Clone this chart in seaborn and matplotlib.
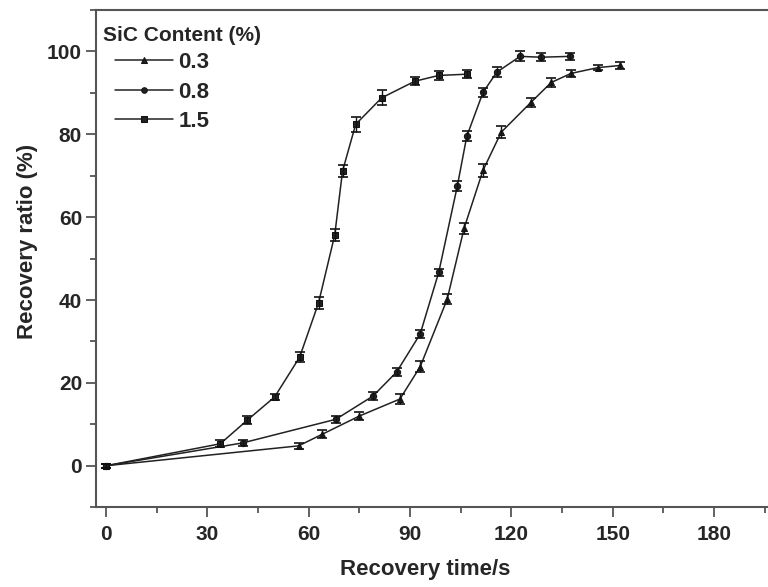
import numpy as np
import pandas as pd
import matplotlib
matplotlib.use('Agg')
import matplotlib.pyplot as plt
import seaborn as sns
from matplotlib.ticker import MultipleLocator

# Datos
t_03 = [0, 57, 64, 75, 87, 93, 101, 106, 111.6, 117, 125.8, 131.8, 137.7, 145.7, 152.2]
r_03 = [0, 4.8, 7.6, 12.0, 16.1, 23.9, 40.2, 57.3, 71.3, 80.5, 87.7, 92.5, 94.7, 96.1, 96.6]
e_03 = [0.5, 0.8, 1.0, 1.0, 1.2, 1.3, 1.2, 1.3, 1.5, 1.5, 1.0, 1.0, 0.8, 0.6, 0.8]

t_08 = [0, 40.4, 68, 79, 86, 93, 98.5, 104, 106.8, 111.6, 115.7, 122.6, 128.8, 137.4]
r_08 = [0, 5.5, 11.2, 16.8, 22.6, 31.8, 46.7, 67.5, 79.5, 90.1, 95.0, 98.8, 98.6, 98.8]
e_08 = [0.5, 0.8, 0.8, 1.0, 1.0, 1.0, 0.8, 1.2, 1.2, 1.0, 1.2, 1.2, 1.0, 0.8]

t_15 = [0, 33.8, 41.8, 49.9, 57.3, 62.9, 67.7, 70, 73.9, 81.6, 91.4, 98.5, 106.8]
r_15 = [0, 5.3, 11.0, 16.6, 26.2, 39.3, 55.7, 71.1, 82.4, 88.8, 92.8, 94.2, 94.5]
e_15 = [0.5, 0.8, 1.0, 0.8, 1.2, 1.5, 1.5, 1.5, 1.8, 1.8, 1.0, 1.0, 1.0]

labels = ['0.3', '0.8', '1.5']
marcadores = {'0.3': '^', '0.8': 'o', '1.5': 's'}

df = pd.DataFrame({
    'tiempo': t_03 + t_08 + t_15,
    'ratio': r_03 + r_08 + r_15,
    'err': e_03 + e_08 + e_15,
    'SiC': ['0.3'] * len(t_03) + ['0.8'] * len(t_08) + ['1.5'] * len(t_15),
})

sns.set_style('ticks')
plt.rcParams['font.family'] = ['Liberation Sans', 'DejaVu Sans']
plt.rcParams['font.weight'] = 'bold'

fig = plt.figure(figsize=(7.68, 5.87), dpi=100)
ax = fig.add_axes([0.125, 0.136, 0.875, 0.847])

sns.lineplot(data=df, x='tiempo', y='ratio', hue='SiC', style='SiC',
             palette={l: '#222222' for l in labels}, markers=marcadores,
             dashes=False, markersize=4.5, markeredgecolor='#111111',
             linewidth=1.1, ax=ax, legend=True, sort=False)

for l in labels:
    d = df[df['SiC'] == l]
    ax.errorbar(d['tiempo'], d['ratio'], yerr=d['err'], fmt='none',
                ecolor='#111111', elinewidth=1.0, capsize=3.5, capthick=1.2)

ax.set_xlim(-3, 196)
ax.set_ylim(-10, 110)
ax.xaxis.set_minor_locator(MultipleLocator(15))
ax.yaxis.set_major_locator(MultipleLocator(20))
ax.yaxis.set_minor_locator(MultipleLocator(10))
ax.set_xticks(range(0, 181, 30))
ax.tick_params(which='major', direction='out', length=7, width=1.3,
               color='#555555', labelsize=15, pad=3)
ax.tick_params(axis='x', which='major', pad=6)
ax.tick_params(which='minor', direction='out', length=4.5, width=1.3,
               color='#555555')
for lab in ax.get_xticklabels() + ax.get_yticklabels():
    lab.set_fontweight('bold')

for s in ['left', 'bottom', 'top']:
    ax.spines[s].set_color('#555555')
    ax.spines[s].set_linewidth(1.5)
ax.spines['right'].set_visible(False)

ax.set_xlabel('Recovery time/s', fontsize=16, fontweight='bold')
ax.set_ylabel('Recovery ratio (%)', fontsize=16, fontweight='bold')
ax.xaxis.set_label_coords(0.49, -0.105)
ax.yaxis.set_label_coords(-0.086, 0.535)

# Título de la leyenda como texto aparte (las entradas van sangradas)
ax.text(0.010, 0.948, 'SiC Content (%)', transform=ax.transAxes,
        fontsize=15, fontweight='bold', ha='left', va='center')
leg = ax.legend(loc='upper left', bbox_to_anchor=(0.028, 0.915),
                frameon=False, fontsize=16, handlelength=2.6,
                borderaxespad=0, borderpad=0, labelspacing=0.38,
                handletextpad=0.25)
for txt in leg.get_texts():
    txt.set_fontweight('bold')
for h in leg.legend_handles:
    h.set_markersize(4)

fig.savefig('out.png', dpi=100)
plt.close()
